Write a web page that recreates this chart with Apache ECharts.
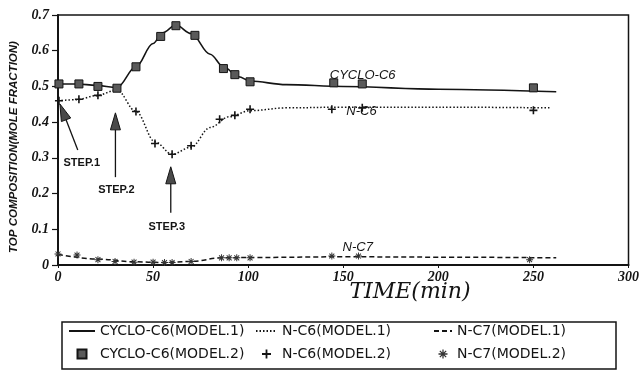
<!DOCTYPE html>
<html><head><meta charset="utf-8">
<script src="https://cdn.jsdelivr.net/npm/echarts@6/dist/echarts.min.js"></script>
<style>html,body{margin:0;padding:0;background:#fff}#c{width:642px;height:371px}</style>
</head><body><div id="c"></div>
<script>
// ---- data ----
const xTicks = [0, 50, 100, 150, 200, 250, 300];
const yTicks = [0, 0.1, 0.2, 0.3, 0.4, 0.5, 0.6, 0.7];

// Model 1 (continuous curves)
const tCyclo1 = [0, 10, 20, 31, 41, 50, 55, 62, 70, 80, 87, 95, 101, 120, 150, 200, 262];
const cyclo1  = [0.507, 0.507, 0.503, 0.497, 0.555, 0.62, 0.65, 0.672, 0.648, 0.59, 0.555, 0.527, 0.515, 0.505, 0.5, 0.492, 0.485];
const tNC6_1  = [0, 10, 20, 31, 41, 51, 60, 70, 80, 90, 101, 120, 150, 200, 259];
const nc6_1   = [0.46, 0.463, 0.474, 0.49, 0.43, 0.345, 0.31, 0.33, 0.385, 0.415, 0.432, 0.44, 0.442, 0.442, 0.44];
const tNC7_1  = [0, 20, 40, 55, 70, 86, 101, 150, 200, 262];
const nc7_1   = [0.03, 0.017, 0.009, 0.007, 0.01, 0.02, 0.021, 0.023, 0.022, 0.02];

// Model 2 (markers)
const tCyclo2 = [0.5, 11, 21, 31, 41, 54, 62, 72, 87, 93, 101, 145, 160, 250];
const cyclo2  = [0.507, 0.507, 0.50, 0.495, 0.555, 0.64, 0.67, 0.643, 0.55, 0.533, 0.513, 0.51, 0.507, 0.496];
const tNC6_2  = [0.5, 11, 21, 41, 51, 60, 70, 85, 93, 101, 144, 160, 250];
const nc6_2   = [0.46, 0.464, 0.475, 0.43, 0.34, 0.31, 0.334, 0.408, 0.419, 0.436, 0.436, 0.44, 0.433];
const tNC7_2  = [0, 10, 21, 30, 40, 50, 56, 60, 70, 86, 90, 94, 101, 144, 158, 248];
const nc7_2   = [0.031, 0.028, 0.015, 0.01, 0.008, 0.008, 0.007, 0.007, 0.01, 0.02, 0.02, 0.02, 0.02, 0.025, 0.025, 0.015];

const names = ['CYCLO-C6(MODEL.1)', 'N-C6(MODEL.1)', 'N-C7(MODEL.1)', 'CYCLO-C6(MODEL.2)', 'N-C6(MODEL.2)', 'N-C7(MODEL.2)'];

// annotations in data coordinates: [time, fraction]
const steps = [
  {label: 'STEP.1', tip: [1.0, 0.451], tail: [10.4, 0.322], text: [12.5, 0.286]},
  {label: 'STEP.2', tip: [30.2, 0.426], tail: [30.2, 0.246], text: [30.7, 0.21]},
  {label: 'STEP.3', tip: [59.3, 0.275], tail: [59.3, 0.146], text: [57.2, 0.106]}
];
const curveLabels = [
  {label: 'CYCLO-C6', at: [160.2, 0.532]},
  {label: 'N-C6', at: [159.6, 0.429]},
  {label: 'N-C7', at: [157.6, 0.048]}
];

const zip = (a, b) => a.map((x, i) => [x, b[i]]);
const INK = '#141414';
const squarePath = 'path://M0,0h10v10h-10z';
const plusPath = 'path://M4,0h2v4h4v2h-4v4h-2v-4h-4v-2h4z';
const starPath = 'path://M4.3,0h1.4v10h-1.4z M0,4.3h10v1.4h-10z M1,2 L2,1 L9,8 L8,9z M8,1 L9,2 L2,9 L1,8z';

const chart = echarts.init(document.getElementById('c'), null, {renderer: 'canvas'});
const tickFont = {fontFamily: 'Liberation Serif', fontStyle: 'italic', fontWeight: 'bold', fontSize: 14, color: INK};

const lineSeries = (name, t, v, type) => ({
  name, type: 'line', data: zip(t, v), symbol: 'none', smooth: 0.35, smoothMonotone: 'x',
  lineStyle: {color: INK, width: type === 'solid' ? 1.6 : 1.5, type: type === 'dotted' ? [1.5, 2] : (type === 'dashed' ? [5, 3] : 'solid')},
  itemStyle: {color: INK}, z: 2
});
const markSeries = (name, t, v, symbol, size, fill, border) => ({
  name, type: 'scatter', data: zip(t, v), symbol, symbolSize: size, symbolKeepAspect: true,
  itemStyle: {color: fill, borderColor: INK, borderWidth: border, opacity: 1}, z: 3
});

const legendText = {fontFamily: 'DejaVu Sans', fontSize: 14, color: INK};
const hideSym = {opacity: 0};
const legendBase = {orient: 'vertical', top: 324, padding: 0, itemHeight: 9, itemGap: 9, textStyle: legendText};
chart.setOption({
  animation: false,
  backgroundColor: '#fff',
  grid: {left: 58, right: 6, top: 15, bottom: 106, show: true, borderColor: INK, borderWidth: 1.5},
  xAxis: {
    type: 'value', min: 0, max: 300, interval: 50,
    axisLine: {show: true, lineStyle: {color: INK, width: 2}},
    axisTick: {show: true, length: 3, lineStyle: {color: INK}},
    axisLabel: Object.assign({margin: 5, formatter: v => xTicks.includes(v) ? String(v) : ''}, tickFont),
    splitLine: {show: false}
  },
  yAxis: {
    type: 'value', min: 0, max: 0.7, interval: 0.1,
    axisLine: {show: true, lineStyle: {color: INK, width: 2}},
    axisTick: {show: true, length: 6, lineStyle: {color: INK, width: 1.2}},
    axisLabel: Object.assign({margin: 9, formatter: v => {
      const k = yTicks.find(y => Math.abs(y - v) < 1e-6); return k === undefined ? '' : (k === 0 ? '0' : k.toFixed(1));
    }}, tickFont),
    splitLine: {show: false}
  },
  legend: [
    Object.assign({}, legendBase, {left: 68, itemWidth: 26, data: [{name: names[0], itemStyle: hideSym}, names[3]]}),
    Object.assign({}, legendBase, {left: 255, itemWidth: 21, data: [{name: names[1], itemStyle: hideSym}, names[4]]}),
    Object.assign({}, legendBase, {left: 433, itemWidth: 18, data: [{name: names[2], itemStyle: hideSym}, names[5]]})
  ],
  series: [
    lineSeries(names[0], tCyclo1, cyclo1, 'solid'),
    lineSeries(names[1], tNC6_1, nc6_1, 'dotted'),
    lineSeries(names[2], tNC7_1, nc7_1, 'dashed'),
    markSeries(names[3], tCyclo2, cyclo2, squarePath, 8, '#5a5a5a', 1),
    markSeries(names[4], tNC6_2, nc6_2, plusPath, 8, INK, 0),
    markSeries(names[5], tNC7_2, nc7_2, starPath, 7, '#333', 0)
  ]
});

// ---- annotations placed through the chart's own coordinate system ----
const P = d => chart.convertToPixel({gridIndex: 0}, d);
const g = [];
steps.forEach(s => {
  const tip = P(s.tip), tail = P(s.tail), tp = P(s.text);
  const dx = tail[0] - tip[0], dy = tail[1] - tip[1], L = Math.hypot(dx, dy);
  const ux = dx / L, uy = dy / L, len = 17, hw = 5;
  const bx = tip[0] + ux * len, by = tip[1] + uy * len;
  g.push({type: 'polygon', shape: {points: [tip, [bx - uy * hw, by + ux * hw], [bx + uy * hw, by - ux * hw]]},
          style: {fill: '#4a4a4a', stroke: INK, lineWidth: 1}});
  g.push({type: 'line', shape: {x1: bx, y1: by, x2: tail[0], y2: tail[1]}, style: {stroke: INK, lineWidth: 1.3}});
  g.push({type: 'text', x: tp[0], y: tp[1], style: {text: s.label, align: 'center', verticalAlign: 'middle',
          font: 'bold 11px "Liberation Sans"', fill: INK}});
});
curveLabels.forEach(c => {
  const p = P(c.at);
  g.push({type: 'text', x: p[0], y: p[1], style: {text: c.label, align: 'center', verticalAlign: 'middle',
          font: 'italic 13px "Liberation Sans"', fill: INK}});
});
// axis titles
g.push({type: 'text', x: 410, y: 292, style: {text: 'TIME(min)', align: 'center', verticalAlign: 'middle',
        font: 'italic 22px "DejaVu Serif"', fill: INK}});
g.push({type: 'text', x: 14, y: 147, rotation: Math.PI / 2, style: {text: 'TOP COMPOSITION(MOLE FRACTION)', align: 'center', verticalAlign: 'middle',
        font: 'italic bold 11.5px "Liberation Sans"', fill: INK}});
// legend frame
g.push({type: 'rect', shape: {x: 62, y: 322, width: 554, height: 47}, style: {fill: 'none', stroke: INK, lineWidth: 1.5}, z: -1});
chart.setOption({graphic: g});
</script>
</body></html>
